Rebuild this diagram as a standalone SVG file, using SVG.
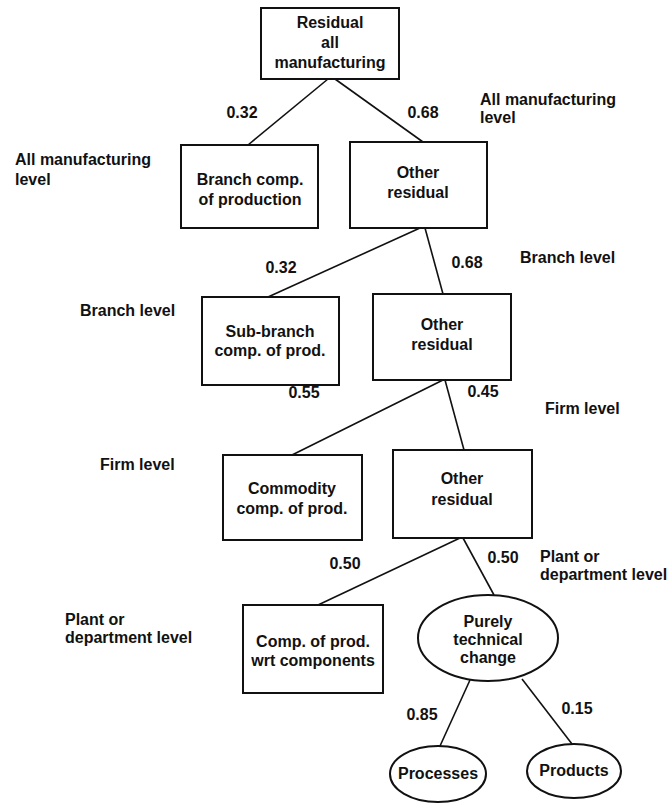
<svg xmlns="http://www.w3.org/2000/svg" width="669" height="804" viewBox="0 0 669 804">
<style>
.box{fill:#fff;stroke:#111;stroke-width:2}
.t{font-family:"Liberation Sans",Arial,sans-serif;font-size:16px;font-weight:bold;fill:#111}
.c{text-anchor:middle}
.ln{stroke:#111;stroke-width:1.6;fill:none}
</style>
<rect width="669" height="804" fill="#fff"/>
<g id="connectors">
<line class="ln" x1="328" y1="79" x2="248" y2="145"/>
<line class="ln" x1="335" y1="79" x2="423" y2="142"/>
<line class="ln" x1="420" y1="228" x2="268" y2="297"/>
<line class="ln" x1="425" y1="228" x2="443" y2="294"/>
<line class="ln" x1="443" y1="380" x2="292" y2="455"/>
<line class="ln" x1="445" y1="380" x2="464" y2="450"/>
<line class="ln" x1="460" y1="538" x2="318" y2="605"/>
<line class="ln" x1="463" y1="538" x2="494" y2="595"/>
<line class="ln" x1="470" y1="680" x2="440" y2="746"/>
<line class="ln" x1="522" y1="679" x2="572" y2="744"/>
</g>
<g id="edge-labels">
<text class="t c" x="242" y="118">0.32</text>
<text class="t c" x="423" y="118">0.68</text>
<text class="t c" x="281" y="273">0.32</text>
<text class="t c" x="467" y="268">0.68</text>
<text class="t c" x="304" y="398">0.55</text>
<text class="t c" x="483" y="397">0.45</text>
<text class="t c" x="345" y="569">0.50</text>
<text class="t c" x="503" y="563">0.50</text>
<text class="t c" x="422" y="720">0.85</text>
<text class="t c" x="577" y="714">0.15</text>
</g>
<g id="level-labels">
<text class="t" x="480" y="105">All manufacturing</text>
<text class="t" x="480" y="123">level</text>
<text class="t" x="15" y="165">All manufacturing</text>
<text class="t" x="15" y="185">level</text>
<text class="t" x="520" y="263">Branch level</text>
<text class="t" x="80" y="316">Branch level</text>
<text class="t" x="545" y="414">Firm level</text>
<text class="t" x="100" y="470">Firm level</text>
<text class="t" x="540" y="562">Plant or</text>
<text class="t" x="540" y="580">department level</text>
<text class="t" x="65" y="625">Plant or</text>
<text class="t" x="65" y="643">department level</text>
</g>
<g id="n-root">
<rect class="box" x="261" y="8" width="138" height="71"/>
<text class="t c" x="330" y="28">Residual</text>
<text class="t c" x="330" y="48">all</text>
<text class="t c" x="330" y="68">manufacturing</text>
</g>
<g id="n-branch">
<rect class="box" x="181" y="145" width="137" height="83"/>
<text class="t c" x="250" y="185">Branch comp.</text>
<text class="t c" x="250" y="205">of production</text>
</g>
<g id="n-other1">
<rect class="box" x="350" y="142" width="137" height="86"/>
<text class="t c" x="418" y="178">Other</text>
<text class="t c" x="418" y="198">residual</text>
</g>
<g id="n-subbranch">
<rect class="box" x="202" y="297" width="137" height="88"/>
<text class="t c" x="270" y="337">Sub-branch</text>
<text class="t c" x="270" y="356">comp. of prod.</text>
</g>
<g id="n-other2">
<rect class="box" x="373" y="294" width="138" height="86"/>
<text class="t c" x="442" y="330">Other</text>
<text class="t c" x="442" y="350">residual</text>
</g>
<g id="n-commodity">
<rect class="box" x="223" y="455" width="139" height="85"/>
<text class="t c" x="292" y="494">Commodity</text>
<text class="t c" x="292" y="514">comp. of prod.</text>
</g>
<g id="n-other3">
<rect class="box" x="393" y="450" width="139" height="88"/>
<text class="t c" x="462" y="484">Other</text>
<text class="t c" x="462" y="505">residual</text>
</g>
<g id="n-components">
<rect class="box" x="243" y="605" width="140" height="88"/>
<text class="t c" x="313" y="647">Comp. of prod.</text>
<text class="t c" x="313" y="666">wrt components</text>
</g>
<g id="n-technical">
<ellipse class="box" cx="488" cy="638" rx="70" ry="43"/>
<text class="t c" x="488" y="627">Purely</text>
<text class="t c" x="488" y="645">technical</text>
<text class="t c" x="488" y="663">change</text>
</g>
<g id="n-processes">
<ellipse class="box" cx="438" cy="774" rx="48" ry="28"/>
<text class="t c" x="438" y="779">Processes</text>
</g>
<g id="n-products">
<ellipse class="box" cx="574" cy="771" rx="47" ry="27"/>
<text class="t c" x="574" y="776">Products</text>
</g>
</svg>
